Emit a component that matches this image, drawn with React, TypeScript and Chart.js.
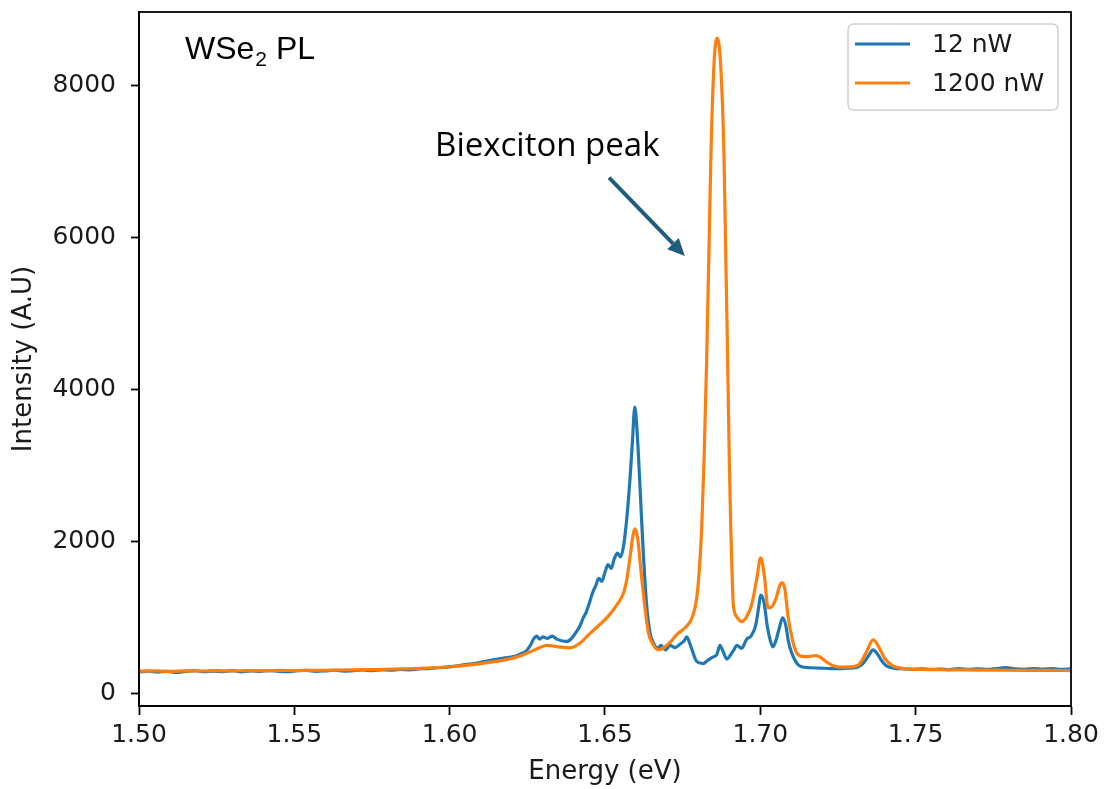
import { useEffect, useRef } from "react";
import { Chart, registerables } from "chart.js";

Chart.register(...registerables);

// ---- data ----
const energy12 = [
  1.5, 1.503, 1.506, 1.509, 1.512, 1.515, 1.518, 1.521, 1.524, 1.527, 1.53, 1.533, 1.536, 1.539, 1.542,
  1.545, 1.548, 1.551, 1.554, 1.557, 1.56, 1.563, 1.566, 1.569, 1.572, 1.575, 1.578, 1.581, 1.584, 1.587,
  1.59, 1.593, 1.596, 1.599, 1.602, 1.605, 1.608, 1.611, 1.614, 1.617, 1.619, 1.6215, 1.623, 1.6245,
  1.626, 1.627, 1.628, 1.629, 1.63, 1.6315, 1.633, 1.6345, 1.636, 1.6375, 1.639, 1.6405, 1.642, 1.643,
  1.644, 1.645, 1.646, 1.647, 1.648, 1.649, 1.65, 1.651, 1.652, 1.653, 1.654, 1.655, 1.656, 1.657, 1.658,
  1.6588, 1.6596, 1.6604, 1.6613, 1.6622, 1.6634, 1.6645, 1.6655, 1.667, 1.668, 1.6695, 1.671, 1.6725,
  1.674, 1.6755, 1.6763, 1.6775, 1.6795, 1.6816, 1.683, 1.6845, 1.686, 1.687, 1.688, 1.6892, 1.6905,
  1.6915, 1.6924, 1.694, 1.6956, 1.697, 1.6985, 1.6995, 1.7001, 1.7012, 1.7022, 1.7031, 1.704, 1.705,
  1.706, 1.7072, 1.7082, 1.709, 1.71, 1.7115, 1.713, 1.716, 1.719, 1.722, 1.725, 1.728, 1.731, 1.733,
  1.7348, 1.7363, 1.7378, 1.739, 1.7406, 1.743, 1.746, 1.749, 1.752, 1.755, 1.758, 1.761, 1.764, 1.767,
  1.77, 1.773, 1.776, 1.779, 1.782, 1.785, 1.788, 1.791, 1.794, 1.797, 1.8,
];
const intensity12 = [
  290, 300, 288, 296, 282, 298, 305, 292, 300, 294, 306, 290, 302, 296, 308,
  298, 293, 305, 310, 298, 304, 312, 300, 308, 315, 306, 318, 312, 322, 318,
  330, 334, 345, 352, 365, 385, 400, 425, 450, 470, 480, 500, 530, 560,
  640, 720, 760, 720, 750, 730, 760, 720, 700, 690, 720, 800, 900, 1000,
  1080, 1200, 1330, 1420, 1520, 1480, 1600, 1700, 1650, 1780, 1850, 1800, 1950, 2300, 2800,
  3300, 3770, 3400, 2700, 1950, 1170, 800, 680, 600, 640, 580, 640, 610,
  650, 700, 750, 640, 430, 400, 440, 480, 520, 640, 560, 460, 520,
  580, 640, 600, 720, 760, 900, 1150, 1300, 1200, 900, 720, 620, 700,
  850, 1000, 900, 700, 550, 420, 360, 345, 340, 335, 332, 338, 350, 400,
  500, 580, 520, 440, 370, 340, 330, 325, 330, 322, 328, 320, 332, 325,
  330, 322, 335, 345, 330, 325, 335, 328, 332, 325, 330,
];

const energy1200 = [
  1.5, 1.505, 1.51, 1.515, 1.52, 1.525, 1.53, 1.535, 1.54, 1.545, 1.55, 1.555, 1.56, 1.565, 1.57, 1.575,
  1.58, 1.585, 1.59, 1.595, 1.6, 1.605, 1.61, 1.615, 1.62, 1.624, 1.628, 1.6312, 1.635, 1.6387, 1.642,
  1.645, 1.648, 1.651, 1.654, 1.656, 1.657, 1.658, 1.659, 1.6596, 1.6605, 1.6615, 1.6628, 1.664, 1.6655,
  1.6671, 1.669, 1.671, 1.6731, 1.676, 1.678, 1.6795, 1.6803, 1.6811, 1.6819, 1.6827, 1.6834, 1.6841,
  1.6851, 1.6861, 1.6872, 1.6883, 1.6889, 1.6895, 1.69, 1.6905, 1.6909, 1.6913, 1.6925, 1.694, 1.6955,
  1.6972, 1.6988, 1.7001, 1.7013, 1.7025, 1.7035, 1.705, 1.7062, 1.707, 1.7078, 1.709, 1.7105, 1.7117,
  1.714, 1.716, 1.7176, 1.719, 1.721, 1.7234, 1.726, 1.729, 1.732, 1.734, 1.7363, 1.7385, 1.74, 1.7427,
  1.746, 1.75, 1.755, 1.76, 1.765, 1.77, 1.775, 1.78, 1.785, 1.79, 1.795, 1.8,
];
const intensity1200 = [
  300, 303, 298, 304, 302, 306, 303, 307, 305, 309, 308, 311, 312, 315, 318, 321,
  325, 330, 336, 345, 358, 375, 398, 428, 468, 520, 590, 640, 620, 606, 670,
  790, 900, 1020, 1180, 1330, 1500, 1780, 2080, 2170, 2050, 1650, 1150, 800, 650,
  580, 610, 680, 780, 880, 1000, 1252, 1600, 2155, 3100, 4350, 5700, 7083,
  8290, 8620, 8290, 7083, 5700, 4350, 3100, 2155, 1600, 1170, 1010, 950, 1010,
  1170, 1500, 1790, 1550, 1130, 1140, 1250, 1420, 1460, 1400, 1000, 680, 540,
  490, 495, 505, 490, 430, 370, 352, 355, 400, 540, 710, 590, 470, 370,
  335, 325, 320, 318, 316, 314, 313, 312, 311, 310, 309, 308,
];

const seriesLabels = ["12 nW", "1200 nW"];
const seriesColors = ["#1f77b4", "#ff7f0e"];
const xTickValues = [1.5, 1.55, 1.6, 1.65, 1.7, 1.75, 1.8];
const yTickValues = [0, 2000, 4000, 6000, 8000];
const xAxisTitle = "Energy (eV)";
const yAxisTitle = "Intensity (A.U)";
const sampleName = "WSe";
const sampleSub = "2";
const sampleSuffix = " PL";
const peakLabel = "Biexciton peak";
// annotation anchors in data coordinates
const sampleLabelAt = [1.5148, 8340];
const peakLabelAt = [1.5953, 7075];
const arrowFrom = [1.6513, 6785];
const arrowTo = [1.6757, 5757];

const toPoints = (xs: number[], ys: number[]) => xs.map((x, i) => ({ x, y: ys[i] }));

const framePlugin = {
  id: "frameAndNotes",
  afterDatasetsDraw(chart: any) {
    const { ctx, chartArea, scales } = chart;
    const xs = scales.x;
    const ys = scales.y;
    ctx.save();
    // frame (top/right spines)
    ctx.strokeStyle = "#000";
    ctx.lineWidth = 1.8;
    ctx.strokeRect(chartArea.left, chartArea.top, chartArea.right - chartArea.left, chartArea.bottom - chartArea.top);

    // sample label with subscript
    const sx = xs.getPixelForValue(sampleLabelAt[0]);
    const sy = ys.getPixelForValue(sampleLabelAt[1]);
    ctx.fillStyle = "#000";
    ctx.textBaseline = "alphabetic";
    ctx.textAlign = "left";
    ctx.font = "32px 'Liberation Sans', Arial, sans-serif";
    ctx.fillText(sampleName, sx, sy);
    const w = ctx.measureText(sampleName).width;
    ctx.font = "21px 'Liberation Sans', Arial, sans-serif";
    ctx.fillText(sampleSub, sx + w + 1, sy + 7);
    const w2 = ctx.measureText(sampleSub).width;
    ctx.font = "32px 'Liberation Sans', Arial, sans-serif";
    ctx.fillText(sampleSuffix, sx + w + 1 + w2, sy);

    // peak label
    const px = xs.getPixelForValue(peakLabelAt[0]);
    const py = ys.getPixelForValue(peakLabelAt[1]);
    ctx.font = "33px 'Open Sans', sans-serif";
    ctx.fillStyle = "#000";
    ctx.fillText(peakLabel, px, py);

    // arrow
    const ax0 = xs.getPixelForValue(arrowFrom[0]);
    const ay0 = ys.getPixelForValue(arrowFrom[1]);
    const ax1 = xs.getPixelForValue(arrowTo[0]);
    const ay1 = ys.getPixelForValue(arrowTo[1]);
    const ang = Math.atan2(ay1 - ay0, ax1 - ax0);
    const headLen = 17;
    const headHalf = 8;
    const bx = ax1 - headLen * Math.cos(ang);
    const by = ay1 - headLen * Math.sin(ang);
    ctx.strokeStyle = "#1f5d7e";
    ctx.fillStyle = "#1f5d7e";
    ctx.lineWidth = 4;
    ctx.beginPath();
    ctx.moveTo(ax0, ay0);
    ctx.lineTo(bx, by);
    ctx.stroke();
    ctx.beginPath();
    ctx.moveTo(ax1, ay1);
    ctx.lineTo(bx + headHalf * Math.sin(ang), by - headHalf * Math.cos(ang));
    ctx.lineTo(bx - headHalf * Math.sin(ang), by + headHalf * Math.cos(ang));
    ctx.closePath();
    ctx.fill();

    // legend
    const lx = 848, ly = 24, lw = 210, lh = 86, r = 6;
    ctx.beginPath();
    ctx.moveTo(lx + r, ly);
    ctx.lineTo(lx + lw - r, ly);
    ctx.quadraticCurveTo(lx + lw, ly, lx + lw, ly + r);
    ctx.lineTo(lx + lw, ly + lh - r);
    ctx.quadraticCurveTo(lx + lw, ly + lh, lx + lw - r, ly + lh);
    ctx.lineTo(lx + r, ly + lh);
    ctx.quadraticCurveTo(lx, ly + lh, lx, ly + lh - r);
    ctx.lineTo(lx, ly + r);
    ctx.quadraticCurveTo(lx, ly, lx + r, ly);
    ctx.closePath();
    ctx.fillStyle = "rgba(255,255,255,0.8)";
    ctx.fill();
    ctx.strokeStyle = "#d0d0d0";
    ctx.lineWidth = 1.5;
    ctx.stroke();
    ctx.font = "25px 'DejaVu Sans', sans-serif";
    ctx.textBaseline = "middle";
    chart.data.datasets.forEach((ds: any, i: number) => {
      const yy = 44 + i * 39;
      ctx.strokeStyle = ds.borderColor;
      ctx.lineWidth = 3;
      ctx.beginPath();
      ctx.moveTo(855, yy);
      ctx.lineTo(910, yy);
      ctx.stroke();
      ctx.fillStyle = "#1a1a1a";
      ctx.fillText(ds.label, 932, yy + 1);
    });
    ctx.restore();
  },
};

export default function App() {
  const ref = useRef<HTMLCanvasElement | null>(null);
  useEffect(() => {
    if (!ref.current) return;
    const tickFont = { family: "'DejaVu Sans', sans-serif", size: 25 };
    const lineStyle = {
      borderWidth: 3.2,
      pointRadius: 0,
      cubicInterpolationMode: "monotone",
    };
    const chart = new Chart(ref.current, {
      type: "line",
      data: {
        datasets: [
          {
            label: seriesLabels[0],
            data: toPoints(energy12, intensity12),
            borderColor: seriesColors[0],
            backgroundColor: seriesColors[0],
            order: 2,
            ...lineStyle,
          },
          {
            label: seriesLabels[1],
            data: toPoints(energy1200, intensity1200),
            borderColor: seriesColors[1],
            backgroundColor: seriesColors[1],
            order: 1,
            ...lineStyle,
          },
        ],
      },
      options: {
        animation: false,
        responsive: false,
        maintainAspectRatio: false,
        layout: { padding: { top: 12, right: 33, left: 0, bottom: 0 } },
        plugins: { legend: { display: false }, tooltip: { enabled: false } },
        scales: {
          x: {
            type: "linear",
            min: 1.5,
            max: 1.8,
            afterBuildTicks: (scale: any) => {
              scale.ticks = xTickValues.map((v) => ({ value: v }));
            },
            afterFit: (scale: any) => {
              scale.height = 83;
              scale.paddingLeft = 0;
              scale.paddingRight = 0;
            },
            ticks: {
              font: tickFont,
              color: "#1a1a1a",
              padding: 5,
              maxRotation: 0,
              autoSkip: false,
              callback: (v: any) => Number(v).toFixed(2),
            },
            grid: {
              display: true,
              drawOnChartArea: false,
              drawTicks: true,
              tickLength: 9,
              tickWidth: 1.8,
              tickColor: "#000",
            },
            border: { display: true, color: "#000", width: 1.8 },
            title: {
              display: true,
              text: xAxisTitle,
              font: { family: "'DejaVu Sans', sans-serif", size: 26 },
              color: "#1a1a1a",
              padding: { top: 0, bottom: 1 },
            },
          },
          y: {
            type: "linear",
            min: -158,
            max: 8962,
            afterBuildTicks: (scale: any) => {
              scale.ticks = yTickValues.map((v) => ({ value: v }));
            },
            afterFit: (scale: any) => {
              scale.width = 139;
              scale.paddingTop = 0;
              scale.paddingBottom = 0;
            },
            ticks: {
              font: tickFont,
              color: "#1a1a1a",
              padding: 15,
              autoSkip: false,
              callback: (v: any) => String(v),
            },
            grid: {
              display: true,
              drawOnChartArea: false,
              drawTicks: true,
              tickLength: 8,
              tickWidth: 1.8,
              tickColor: "#000",
            },
            border: { display: true, color: "#000", width: 1.8 },
            title: {
              display: true,
              text: yAxisTitle,
              font: { family: "'DejaVu Sans', sans-serif", size: 26 },
              color: "#1a1a1a",
              padding: { top: 9, bottom: 0 },
            },
          },
        },
      },
      plugins: [framePlugin],
    } as any);
    return () => chart.destroy();
  }, []);
  return (
    <div style={{ position: "fixed", left: 0, top: 0, width: 1104, height: 789, background: "#fff" }}>
      <canvas ref={ref} width={1104} height={789} style={{ display: "block" }} />
    </div>
  );
}
